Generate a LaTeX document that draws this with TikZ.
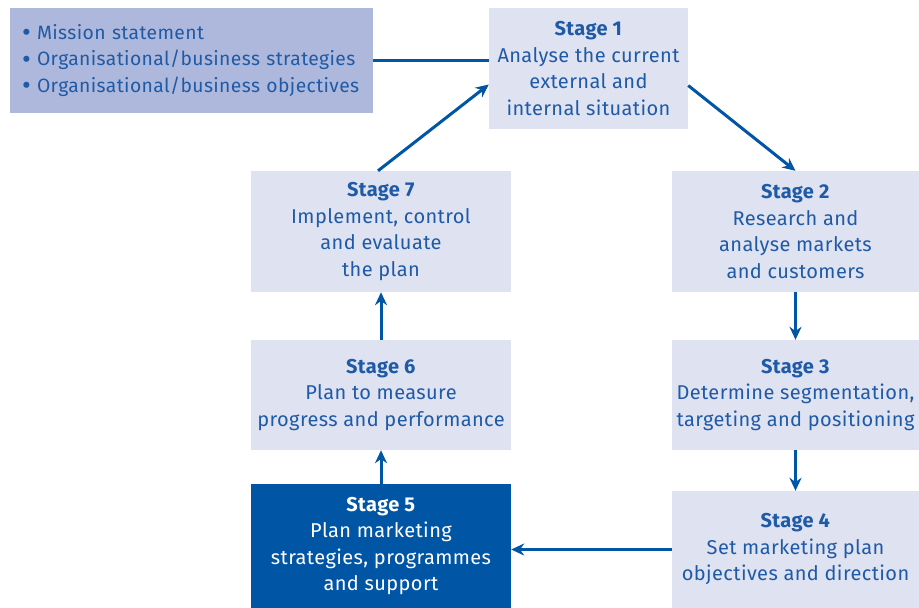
\documentclass[tikz,border=0pt]{standalone}
\usepackage{fontspec}
\setmainfont{Fira Sans}[LetterSpace=2]
\usetikzlibrary{arrows.meta}
\definecolor{stagefill}{HTML}{DFE2F1}
\definecolor{listfill}{HTML}{AEB8DC}
\definecolor{darkblue}{HTML}{0055A4}
\definecolor{textblue}{HTML}{1F5AA6}
\tikzset{
  stagebox/.style={fill=stagefill, text=textblue, align=center, inner sep=0pt,
    font=\fontsize{20}{26.5}\selectfont},
  flow/.style={draw=darkblue, line width=3pt, -{Stealth[length=13pt,width=12pt]}},
}
\newcommand{\listdot}{\makebox[15pt][l]{\raisebox{-2.2pt}{\scalebox{1.4}{\textbullet}}}}
\begin{document}
\begin{tikzpicture}[x=1pt, y=-1pt]
    \useasboundingbox (0,0) rectangle (919,608);
    \node[stagebox, fill=listfill, minimum width=363pt, minimum height=105pt,
      text width=339pt, align=left, font=\fontsize{19.3}{26.5}\selectfont] (list) at (191.5,60.5)
      {\listdot Mission statement\\
       \listdot Organisational/business strategies\\
       \listdot Organisational/business objectives};
    \node[stagebox, minimum width=199pt, minimum height=121pt] (s1) at (588.5,68.5)
      {\textbf{Stage 1}\\Analyse the current\\external and\\internal situation};
    \node[stagebox, minimum width=247pt, minimum height=121pt] (s2) at (795.5,231.5)
      {\textbf{Stage 2}\\Research and\\analyse markets\\and customers};
    \node[stagebox, minimum width=247pt, minimum height=110pt] (s3) at (795.5,395)
      {\textbf{Stage 3}\\Determine segmentation,\\targeting and positioning};
    \node[stagebox, minimum width=247pt, minimum height=117pt] (s4) at (795.5,549.5)
      {\textbf{Stage 4}\\Set marketing plan\\objectives and direction};
    \node[stagebox, fill=darkblue, text=white, minimum width=260pt, minimum height=124pt] (s5) at (381,546)
      {\textbf{Stage 5}\\Plan marketing\\strategies, programmes\\and support};
    \node[stagebox, minimum width=260pt, minimum height=110pt] (s6) at (381,395)
      {\textbf{Stage 6}\\Plan to measure\\progress and performance};
    \node[stagebox, minimum width=260pt, minimum height=121pt] (s7) at (381,231.5)
      {\textbf{Stage 7}\\Implement, control\\and evaluate\\the plan};
    % connectors
    \draw[draw=darkblue, line width=3pt] (list.east) -- (list.east -| s1.west);
    \draw[flow] ([yshift=-17pt]s1.east) -- (s2.north);
    \draw[flow] (s2.south) -- (s3.north);
    \draw[flow] (s3.south) -- (s4.north);
    \draw[flow] (s4.west) -- (s4.west -| s5.east);
    \draw[flow] (s5.north) -- (s6.south);
    \draw[flow] (s6.north) -- (s7.south);
    \draw[flow] ([xshift=-3pt]s7.north) -- ([yshift=-16pt]s1.west);
\end{tikzpicture}
\end{document}
